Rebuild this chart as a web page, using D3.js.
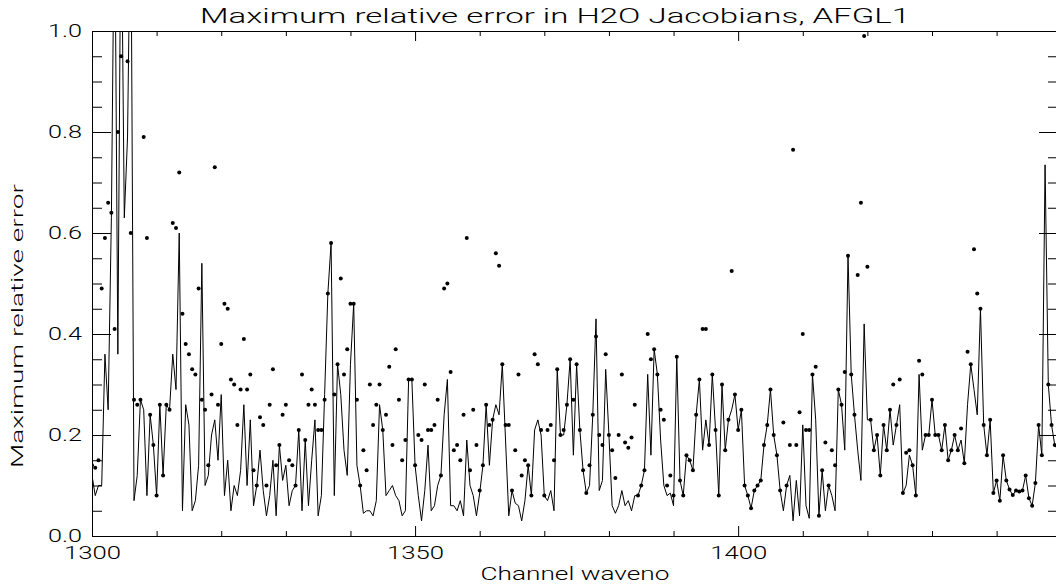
<!DOCTYPE html>
<html>
<head>
<meta charset="utf-8">
<script src="https://cdn.jsdelivr.net/npm/d3@7"></script>
<style>
  body { margin: 0; background: #fff; }
  svg { display: block; overflow: hidden; }
  text { font-family: Roboto, "DejaVu Sans", sans-serif; font-weight: 300; fill: #000; }
  .axis text { font-size: 18px; }
  .axis path, .axis line { stroke: #000; }
</style>
</head>
<body>
<div class="chart"></div>
<script>
// channel grid (cm-1) and the two error series, 50 cm-1 per array
const chanStart = 1300, chanStep = 0.5;

const lineErrA = [
  .12, .08, .10, .10, .36, .25, .63, 1.3, .36, 1.3,
  .63, .79, 1.3, .07, .12, .27, .25, .08, .24, .18,
  .08, .26, .12, .26, .25, .36, .29, .60, .05, .26,
  .22, .05, .07, .14, .54, .10, .12, .20, .23, .15,
  .28, .08, .15, .05, .10, .08, .13, .26, .10, .23,
  .06, .10, .17, .09, .04, .08, .15, .04, .18, .11,
  .14, .06, .09, .10, .21, .05, .19, .06, .15, .23,
  .04, .08, .28, .48, .58, .08, .34, .28, .17, .12,
  .34, .46, .14, .10, .045, .05, .05, .04, .07, .26,
  .21, .08, .09, .10, .08, .07, .04, .05, .31, .31
];
const lineErrB = [
  .14, .08, .03, .09, .18, .05, .06, .10, .12, .24,
  .31, .06, .06, .05, .07, .04, .19, .10, .08, .04,
  .085, .14, .26, .14, .23, .26, .24, .34, .19, .04,
  .09, .065, .06, .03, .07, .14, .08, .21, .23, .20,
  .08, .07, .09, .05, .33, .20, .20, .26, .35, .16,
  .34, .21, .13, .085, .10, .24, .43, .09, .11, .33,
  .20, .06, .045, .06, .09, .06, .07, .05, .08, .08,
  .10, .13, .32, .16, .37, .32, .19, .10, .08, .085,
  .06, .355, .11, .08, .16, .15, .13, .24, .31, .17,
  .23, .18, .32, .21, .08, .30, .17, .23, .25, .28
];
const lineErrC = [
  .21, .25, .10, .08, .055, .09, .10, .11, .18, .22,
  .29, .20, .16, .09, .05, .10, .12, .03, .11, .04,
  .22, .06, .035, .32, .23, .04, .13, .05, .10, .08,
  .05, .29, .26, .17, .555, .32, .24, .17, .11, .42,
  .23, .23, .17, .20, .12, .22, .17, .25, .18, .22,
  .26, .085, .10, .16, .14, .08, .32, .17, .20, .20,
  .27, .20, .20, .17, .22, .15, .17, .20, .17, .19,
  .144, .26, .34, .29, .24, .45, .22, .16, .23, .085,
  .11, .07, .16, .11, .092, .081, .09, .088, .09, .12,
  .075, .06, .105, .22, .16, .735, .30, .22, .18, .17
];

const dotErrA = [
  .14, .135, .15, .49, .59, .66, .64, .41, .80, .95,
  null, .94, .60, .27, .26, .27, .79, .59, .24, .18,
  .08, .26, .12, .26, .25, .62, .61, .72, .44, .38,
  .36, .33, .32, .49, .27, .25, .14, .28, .73, .26,
  .38, .46, .45, .31, .30, .22, .29, .39, .29, .32,
  .13, .10, .235, .22, .10, .26, .33, .14, .18, .24,
  .26, .15, .14, .10, .21, .32, .19, .26, .29, .26,
  .21, .21, .27, .48, .58, .28, .34, .51, .32, .37,
  .46, .46, .27, .10, .17, .13, .30, .22, .26, .30,
  .21, .24, .335, .18, .37, .27, .15, .19, .31, .31
];
const dotErrB = [
  .14, .20, .19, .30, .21, .21, .22, .27, .12, .49,
  .50, .325, .17, .18, .15, .24, .59, .13, .25, .18,
  .09, .14, .26, .22, .23, .56, .535, .34, .22, .22,
  .09, .17, .32, .12, .15, .14, .08, .36, .34, .21,
  .08, .21, .22, .15, .33, .20, .21, .26, .35, .27,
  .34, .21, .13, .085, .14, .24, .395, .20, .18, .36,
  .20, .17, .115, .20, .32, .185, .175, .195, .26, .08,
  .10, .13, .40, .35, .37, .32, .25, .23, .10, .12,
  .08, .355, .11, .08, .16, .15, .13, .24, .31, .41,
  .41, .18, .32, .21, .08, .30, .17, .23, .525, .28
];
const dotErrC = [
  .21, .25, .10, .08, .055, .09, .10, .11, .18, .22,
  .29, .20, .16, .09, .225, .10, .18, .765, .18, .245,
  .40, .21, .21, .32, .335, .04, .13, .185, .10, .17,
  .14, .29, .26, .325, .555, .32, .24, .517, .66, .99,
  .533, .23, .17, .20, .12, .22, .17, .25, .30, .22,
  .31, .085, .165, .17, .14, .08, .347, .32, .20, .20,
  .27, .20, .20, .17, .22, .15, .17, .20, .17, .213,
  .144, .365, .34, .568, .48, .45, .22, .16, .23, .085,
  .11, .07, .16, .11, .092, .081, .09, .088, .09, .12,
  .075, .06, .105, .22, .16, null, .30, .22, .18, .17
];

const xMajorTicks = [1300, 1350, 1400];
const xMinorTicks = [1310, 1320, 1330, 1340, 1360, 1370, 1380, 1390, 1410, 1420, 1430, 1440];
const yMajorTicks = [0, 0.2, 0.4, 0.6, 0.8, 1.0];
const yMinorTicks = [0.05, 0.1, 0.15, 0.25, 0.3, 0.35, 0.45, 0.5, 0.55, 0.65, 0.7, 0.75, 0.85, 0.9, 0.95];

const width = 1056, height = 588;
const plot = {left: 92, right: 1058, top: 31, bottom: 536};

const lineErr = lineErrA.concat(lineErrB, lineErrC);
const dotErr = dotErrA.concat(dotErrB, dotErrC);
const chans = lineErr.map((v, i) => ({w: chanStart + i * chanStep, line: v, dot: dotErr[i]}));

const x = d3.scaleLinear()
    .domain([1300, 1449.5])
    .range([plot.left, plot.right]);

const y = d3.scaleLinear()
    .domain([0, 1])
    .range([plot.bottom, plot.top]);

const svg = d3.select(".chart").append("svg")
    .attr("width", width)
    .attr("height", height);

svg.append("clipPath").attr("id", "clip")
  .append("rect")
    .attr("x", x.range()[0])
    .attr("y", y.range()[1])
    .attr("width", x.range()[1] - x.range()[0])
    .attr("height", y.range()[0] - y.range()[1]);

const data = svg.append("g").attr("clip-path", "url(#clip)");

data.append("path")
    .datum(chans)
    .attr("fill", "none")
    .attr("stroke", "#000")
    .attr("stroke-width", 1)
    .attr("d", d3.line().x(d => x(d.w)).y(d => y(d.line)));

data.selectAll("circle")
    .data(chans.filter(d => d.dot !== null))
  .enter().append("circle")
    .attr("cx", d => x(d.w))
    .attr("cy", d => y(d.dot))
    .attr("r", 2)
    .attr("fill", "#000");

// IDL style box: inward ticks on all four sides, labels on bottom and left
function addAxis(axis, transform){
  const g = svg.append("g")
      .attr("class", "axis")
      .attr("transform", transform)
      .call(axis);
  g.attr("font-size", null).attr("font-family", null);
  return g;
}

const bottom = addAxis(d3.axisBottom(x).tickValues(xMajorTicks).tickSize(-10).tickSizeOuter(0)
    .tickPadding(10).tickFormat(d3.format("d")), "translate(0," + plot.bottom + ")");
bottom.selectAll("text").attr("textLength", 57).attr("lengthAdjust", "spacingAndGlyphs");
addAxis(d3.axisBottom(x).tickValues(xMinorTicks).tickSize(-5).tickSizeOuter(0).tickFormat(""),
    "translate(0," + plot.bottom + ")");
addAxis(d3.axisTop(x).tickValues(xMajorTicks).tickSize(-10).tickSizeOuter(0).tickFormat(""),
    "translate(0," + plot.top + ")");
addAxis(d3.axisTop(x).tickValues(xMinorTicks).tickSize(-5).tickSizeOuter(0).tickFormat(""),
    "translate(0," + plot.top + ")");

const left = addAxis(d3.axisLeft(y).tickValues(yMajorTicks).tickSize(-19).tickSizeOuter(0)
    .tickPadding(10).tickFormat(d3.format(".1f")), "translate(" + plot.left + ",0)");
left.selectAll("text").attr("textLength", 34).attr("lengthAdjust", "spacingAndGlyphs");
addAxis(d3.axisLeft(y).tickValues(yMinorTicks).tickSize(-10).tickSizeOuter(0).tickFormat(""),
    "translate(" + plot.left + ",0)");
addAxis(d3.axisRight(y).tickValues(yMajorTicks).tickSize(-19).tickSizeOuter(0).tickFormat(""),
    "translate(" + plot.right + ",0)");
addAxis(d3.axisRight(y).tickValues(yMinorTicks).tickSize(-10).tickSizeOuter(0).tickFormat(""),
    "translate(" + plot.right + ",0)");

svg.append("text")
    .attr("x", 555)
    .attr("y", 23)
    .attr("text-anchor", "middle")
    .attr("font-size", 21)
    .attr("textLength", 710)
    .attr("lengthAdjust", "spacingAndGlyphs")
    .text("Maximum relative error in H2O Jacobians, AFGL1");

svg.append("text")
    .attr("x", (plot.left + plot.right) / 2)
    .attr("y", 580)
    .attr("text-anchor", "middle")
    .attr("font-size", 18)
    .attr("textLength", 189)
    .attr("lengthAdjust", "spacingAndGlyphs")
    .text("Channel waveno");

svg.append("text")
    .attr("transform", "translate(23,326) rotate(-90)")
    .attr("text-anchor", "middle")
    .attr("font-size", 16)
    .attr("textLength", 284)
    .attr("lengthAdjust", "spacingAndGlyphs")
    .text("Maximum relative error");
</script>
</body>
</html>
